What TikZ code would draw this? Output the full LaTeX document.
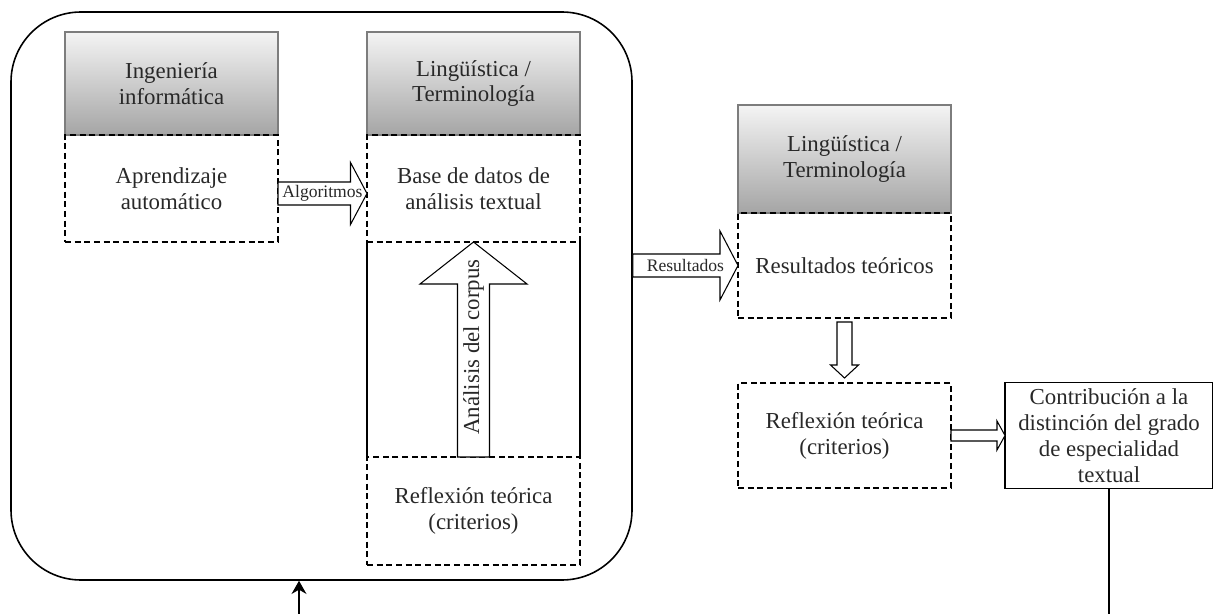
\documentclass[tikz,border=0pt]{standalone}
\usepackage{fontspec}
\setmainfont{Liberation Serif}
\usetikzlibrary{arrows.meta, positioning, calc, backgrounds}
\definecolor{HeadTop}{RGB}{244, 244, 244}
\definecolor{HeadBottom}{RGB}{165, 165, 165}
\definecolor{HeadBorder}{RGB}{125, 125, 125}
\definecolor{TextGray}{RGB}{40, 40, 40}

% hollow block arrow: from, to, shaft half width, head half width, head length
\newcommand{\blockarrow}[5]{%
  \coordinate (ba-base) at ($(#2)!#5!(#1)$);
  \draw[blockline] ($(#1)!#3!90:(#2)$) -- ($(ba-base)!#3!-90:(#1)$) -- ($(ba-base)!#4!-90:(#1)$) -- (#2) -- ($(ba-base)!#4!90:(#1)$) -- ($(ba-base)!#3!90:(#1)$) -- ($(#1)!#3!-90:(#2)$) -- cycle;%
}

\begin{document}
\begin{tikzpicture}[
    font=\fontsize{13}{14.7}\selectfont,
    node distance=1.3cm and 1.08cm,
    % Styles
    discipline/.style={rectangle, draw=HeadBorder, line width=0.6pt, top color=HeadTop, bottom color=HeadBottom, minimum width=4.26cm, minimum height=2.06cm, align=center, text=TextGray, outer sep=0pt},
    process/.style={rectangle, draw=black, dash pattern=on 3.5pt off 2pt, line width=0.7pt, minimum width=4.26cm, minimum height=2.14cm, align=center, text=TextGray, outer sep=0pt},
    result/.style={rectangle, draw=black, line width=0.7pt, minimum width=4.16cm, minimum height=2.12cm, align=center, text=TextGray, inner sep=1pt, outer sep=0pt},
    container/.style={rectangle, draw=black, line width=0.9pt, rounded corners=1.4cm, minimum width=12.42cm, minimum height=11.36cm},
    blockline/.style={draw=black, line width=0.6pt, fill=white, line join=miter},
    arrow/.style={line width=0.7pt, -{Stealth[length=7.5pt, width=8.5pt]}, color=black},
    line/.style={line width=0.7pt, -, color=black},
    labelbox/.style={rectangle, draw=none, fill=none, inner sep=0pt, font=\fontsize{10}{11}\selectfont, text=TextGray}
]
\useasboundingbox (0,0) rectangle (24.26,-12.28);

% ==========================================================================================
% LEFT BLOCK (inside the rounded container)
% ==========================================================================================

% Ingenieria column
\node[discipline] (ing_head) at (3.43,-1.67) {Ingeniería\\informática};
\node[process, below=0pt of ing_head] (ing_low) {Aprendizaje\\automático};

% Linguistica column
\node[discipline, right=1.78cm of ing_head] (ling_head) {Lingüística /\\Terminología};
\node[process, below=0pt of ling_head] (ling_base) {Base de datos de\\análisis textual};
\node[rectangle, minimum width=4.26cm, minimum height=4.3cm, outer sep=0pt, below=0pt of ling_base] (corpus) {};
\draw[line] (corpus.north west) -- (corpus.south west);
\draw[line] (corpus.north east) -- (corpus.south east);
\node[process, minimum height=2.16cm, below=0pt of corpus] (ling_refl) {Reflexión teórica\\(criterios)};

% Container
\begin{scope}[on background layer]
    \node[container] (outer) at (6.43,-5.92) {};
\end{scope}

% Block arrows inside
\coordinate (alg_s) at ($(ing_low.east)+(0,-0.1)$);
\coordinate (alg_e) at (alg_s -| ling_base.west);
\blockarrow{alg_s}{alg_e}{0.23cm}{0.62cm}{0.33cm}
\path (alg_s) -- (alg_e) node[midway, labelbox] {Algoritmos};

\blockarrow{corpus.south}{corpus.north}{0.32cm}{1.07cm}{0.84cm}
\path (corpus.south) -- (corpus.north) node[midway, rotate=90, inner sep=0pt, xshift=0.05cm, text=TextGray] {Análisis del corpus};

% ==========================================================================================
% RIGHT BLOCK
% ==========================================================================================

\node[discipline, minimum height=2.16cm] (res_head) at (16.89,-3.18) {Lingüística /\\Terminología};
\node[process, minimum height=2.1cm, below=0pt of res_head] (res_low) {Resultados teóricos};
\node[process, minimum height=2.1cm, below=1.3cm of res_low] (res_refl) {Reflexión teórica\\(criterios)};
\node[result, right=1.08cm of res_refl] (contrib) {Contribución a la\\distinción del grado\\de especialidad\\textual};

% Block arrows between blocks
\coordinate (res_s) at (outer.east |- res_low.west);
\blockarrow{res_s}{res_low.west}{0.23cm}{0.69cm}{0.36cm}
\path (res_s) -- (res_low.west) node[pos=0.5, labelbox] {Resultados};

\coordinate (down_s) at ($(res_low.south)+(0,-0.08)$);
\coordinate (down_e) at ($(res_refl.north)+(0,0.1)$);
\blockarrow{down_s}{down_e}{0.15cm}{0.28cm}{0.26cm}

\blockarrow{res_refl.east}{contrib.west}{0.11cm}{0.29cm}{0.16cm}

% Feedback lines (cut at the bottom edge)
\coordinate (loop_out) at (contrib.south |- 0,-12.28);
\coordinate (loop_in) at (5.98,-12.28);
\draw[line] (contrib.south) -- (loop_out);
\draw[arrow] (loop_in) -- (loop_in |- outer.south);

\end{tikzpicture}
\end{document}
